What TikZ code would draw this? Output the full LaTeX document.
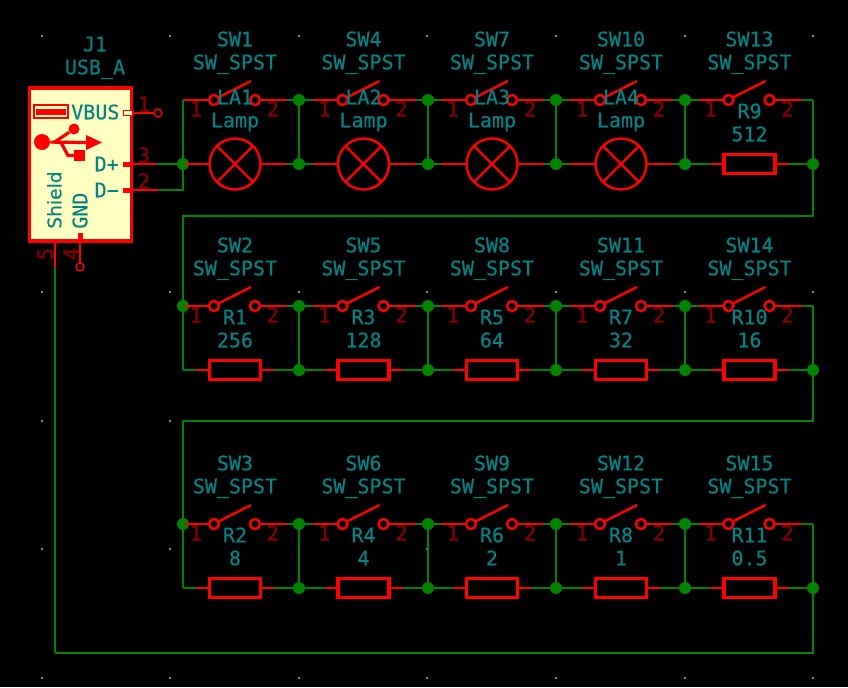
\documentclass[tikz,border=0pt]{standalone}
\usepackage{fontspec}
\newfontfamily\kifont[FakeBold=0.3]{DejaVu Sans Mono}
\newfontfamily\kibold[FakeBold=0.8]{DejaVu Sans Mono}
\newfontfamily\kiprop[FakeBold=0.3]{DejaVu Sans}
\definecolor{wirecol}{HTML}{008400}
\definecolor{textcol}{HTML}{008484}
\definecolor{pincol}{HTML}{840000}
\definecolor{bodycol}{HTML}{FFFFC2}
\definecolor{gridcol}{HTML}{848484}
\begin{document}
\begin{tikzpicture}[x=0.75pt,y=-0.75pt,
    wire/.style={wirecol,line width=1.8pt},
    pin/.style={red,line width=1.8pt},
    thickpin/.style={red,line width=3.75pt},
    junction/.style={circle,fill=wirecol,inner sep=0pt,minimum size=9pt},
    contact/.style={circle,draw=red,line width=1.8pt,inner sep=0pt,outer sep=0pt,minimum size=7.5pt},
    open/.style={circle,draw=red,line width=1pt,inner sep=0pt,outer sep=0pt,minimum size=6pt},
    lamp/.style={circle,draw=red,line width=1.8pt,inner sep=0pt,outer sep=0pt,minimum size=38.25pt},
    res/.style={rectangle,draw=red,line width=2.6pt,inner sep=0pt,outer sep=0pt,minimum width=38pt,minimum height=14.25pt},
    label/.style={textcol,font=\kifont\fontsize{15}{15}\selectfont,inner sep=0pt,text height=10.9pt,text depth=0pt},
    num/.style={pincol,font=\kibold\fontsize{15.5}{15.5}\selectfont,inner sep=0pt,text height=11.3pt,text depth=0pt}]
  \fill[black] (0,0) rectangle (848,687);
  \useasboundingbox (0,0) rectangle (848,687);
  % grid
  \foreach \x in {42,170,299,427,556,685,813}
    \foreach \y in {36,164,292,421,549,678}
      \fill[gridcol] (\x-1,\y-1) rectangle (\x+1,\y+1);
  % junctions
  \foreach \r/\y in {a/100,b/164,c/306,d/370,e/524,f/588}
    \foreach \i/\x in {1/299,2/428,3/556,4/685}
      \node[junction] (\r\i) at (\x,\y) {};
  \coordinate (a0) at (183,100);
  \node[junction] (b0) at (183,164) {};
  \node[junction] (c0) at (183,306) {};
  \coordinate (d0) at (183,370);
  \node[junction] (e0) at (183,524) {};
  \coordinate (f0) at (183,588);
  \coordinate (a5) at (813,100);
  \node[junction] (b5) at (813,164) {};
  \coordinate (c5) at (813,306);
  \node[junction] (d5) at (813,370) {};
  \coordinate (e5) at (813,524);
  \node[junction] (f5) at (813,588) {};
  % verticals and returns
  \foreach \r/\s in {a/b,c/d,e/f}
    \foreach \i in {1,2,3,4}
      \draw[wire] (\r\i) -- (\s\i);
  \coordinate (retA) at (813,216);
  \coordinate (retB) at (183,216);
  \coordinate (retC) at (813,421);
  \coordinate (retD) at (183,421);
  \coordinate (retE) at (813,653);
  \coordinate (retF) at (55,653);
  \draw[wire] (a0) -- (b0);
  \draw[wire] (a5) -- (b5) -- (retA) -- (retB) -- (c0) -- (d0);
  \draw[wire] (c5) -- (d5) -- (retC) -- (retD) -- (e0) -- (f0);
  \draw[wire] (e5) -- (f5) -- (retE) -- (retF);
  % switches
  \foreach \sw/\x/\y/\r/\p/\q in {SW1/235/100/a/0/1,SW4/363.5/100/a/1/2,SW7/492/100/a/2/3,SW10/621/100/a/3/4,SW13/749.5/100/a/4/5,
      SW2/235/306/c/0/1,SW5/363.5/306/c/1/2,SW8/492/306/c/2/3,SW11/621/306/c/3/4,SW14/749.5/306/c/4/5,
      SW3/235/524/e/0/1,SW6/363.5/524/e/1/2,SW9/492/524/e/2/3,SW12/621/524/e/3/4,SW15/749.5/524/e/4/5} {
    \node[label] (\sw-ref) at (\x,\y-61) {\sw};
    \node[label] (\sw-val) at (\x,\y-38) {SW\_SPST};
    \node[contact] (\sw-a) at (\x-21,\y) {};
    \node[contact] (\sw-b) at (\x+20,\y) {};
    \coordinate (\sw-l) at (\x-51,\y);
    \coordinate (\sw-r) at (\x+52,\y);
    \coordinate (\sw-t) at (\x+16,\y-19);
    \draw[wire] (\r\p) -- (\sw-l);
    \draw[wire] (\sw-r) -- (\r\q);
    \draw[pin] (\sw-l) -- (\sw-a);
    \draw[pin] (\sw-b) -- (\sw-r);
    \draw[pin] (\sw-a.30) -- (\sw-t);
    \node[num] (\sw-n1) at (\x-39,\y+9) {1};
    \node[num] (\sw-n2) at (\x+38,\y+9) {2};
  }
  % lamps
  \foreach \la/\x/\p/\q in {LA1/235/0/1,LA2/363.5/1/2,LA3/492/2/3,LA4/621/3/4} {
    \node[lamp] (\la) at (\x,164) {};
    \coordinate (\la-m) at (\x-51,164);
    \coordinate (\la-n) at (\x+52,164);
    \draw[pin] (\la.45) -- (\la.225);
    \draw[pin] (\la.135) -- (\la.315);
    \draw[wire] (b\p) -- (\la-m);
    \draw[wire] (\la-n) -- (b\q);
    \draw[pin] (\la-m) -- (\la.west);
    \draw[pin] (\la.east) -- (\la-n);
    \node[label] (\la-ref) at (\x,97) {\la};
    \node[label] (\la-val) at (\x,120) {Lamp};
  }
  % resistors
  \foreach \rr/\v/\x/\y/\r/\p/\q in {R9/512/749.5/164/b/4/5,
      R1/256/235/370/d/0/1,R3/128/363.5/370/d/1/2,R5/64/492/370/d/2/3,R7/32/621/370/d/3/4,R10/16/749.5/370/d/4/5,
      R2/8/235/588/f/0/1,R4/4/363.5/588/f/1/2,R6/2/492/588/f/2/3,R8/1/621/588/f/3/4,R11/0.5/749.5/588/f/4/5} {
    \node[res] (\rr) at (\x,\y) {};
    \coordinate (\rr-m) at (\x-39,\y);
    \coordinate (\rr-n) at (\x+39,\y);
    \draw[wire] (\r\p) -- (\rr-m);
    \draw[wire] (\rr-n) -- (\r\q);
    \draw[pin] (\rr-m) -- (\rr.west);
    \draw[pin] (\rr.east) -- (\rr-n);
    \node[label] (\rr-ref) at (\x,\y-53) {\rr};
    \node[label] (\rr-val) at (\x,\y-30) {\v};
  }
  % connector
  \node[rectangle,draw=red,fill=bodycol,line width=2.6pt,inner sep=0pt,outer sep=0pt,
    minimum width=76.5pt,minimum height=114.75pt] (J1) at (80.5,164.5) {};
  \node[label] (J1-ref) at (95,44) {J1};
  \node[label] (J1-val) at (95,67) {USB\_A};
  \node[label,anchor=west] (vbus) at (71,112) {VBUS};
  \node[label,anchor=east] (dp) at (119,164) {D+};
  \node[label,anchor=east] (dm) at (119,190) {D\textminus};
  \node[label,font=\kiprop\fontsize{14}{14}\selectfont,rotate=90,anchor=west] (shield) at (54,229) {Shield};
  \node[label,rotate=90,anchor=west] (gnd) at (80,229) {GND};
  % pins
  \node[open] (nc1) at (158,113) {};
  \node[open] (nc4) at (80,267) {};
  \coordinate (vb) at (133,113);
  \coordinate (dpa) at (123,164);
  \coordinate (dpb) at (133,164);
  \coordinate (dpc) at (157,164);
  \coordinate (dma) at (123,190);
  \coordinate (dmb) at (133,190);
  \coordinate (dmc) at (159,190);
  \coordinate (dmd) at (183,190);
  \coordinate (gna) at (80,233);
  \coordinate (gnb) at (80,241);
  \coordinate (sha) at (55,242);
  \coordinate (shb) at (55,268);
  \draw[red,fill=bodycol,line width=1pt] (123.5,110.5) rectangle (133,115.5);
  \draw[pin] (vb) -- (nc1);
  \draw[thickpin] (dpa) -- (dpb);
  \draw[thickpin] (dma) -- (dmb);
  \draw[thickpin] (gna) -- (gnb);
  \draw[pin] (dpb) -- (dpc);
  \draw[pin] (dmb) -- (dmc);
  \draw[pin] (gnb) -- (nc4);
  \draw[pin] (sha) -- (shb);
  \draw[wire] (dpc) -- (b0);
  \draw[wire] (dmc) -- (dmd) -- (b0);
  \draw[wire] (shb) -- (retF);
  \node[num] (n1) at (144,104) {1};
  \node[num] (n3) at (144,155) {3};
  \node[num] (n2) at (144,181) {2};
  \node[num,rotate=90] (n5) at (45,254) {5};
  \node[num,rotate=90] (n4) at (71,254) {4};
  % usb symbol
  \draw[red,line width=1.4pt] (34,105) rectangle (68,118);
  \fill[red] (36,108.5) rectangle (66,114.5);
  \node[circle,fill=red,inner sep=0pt,minimum size=12pt] (usbA) at (42,142) {};
  \node[circle,fill=red,inner sep=0pt,minimum size=8.25pt] (usbB) at (74,129) {};
  \node[rectangle,fill=red,inner sep=0pt,minimum size=8pt] (usbC) at (79.5,155.5) {};
  \coordinate (usbD) at (88,142.5);
  \coordinate (usbE) at (54,142.5);
  \coordinate (usbF) at (61,142.5);
  \coordinate (usbG) at (68,155.5);
  \draw[red,line width=2.4pt] (usbA) -- (usbD);
  \draw[red,line width=2.4pt] (usbE) -- (usbB);
  \draw[red,line width=2.4pt] (usbF) -- (usbG) -- (usbC);
  \fill[red] (86,135) -- (102,142.5) -- (86,150) -- cycle;
\end{tikzpicture}
\end{document}
